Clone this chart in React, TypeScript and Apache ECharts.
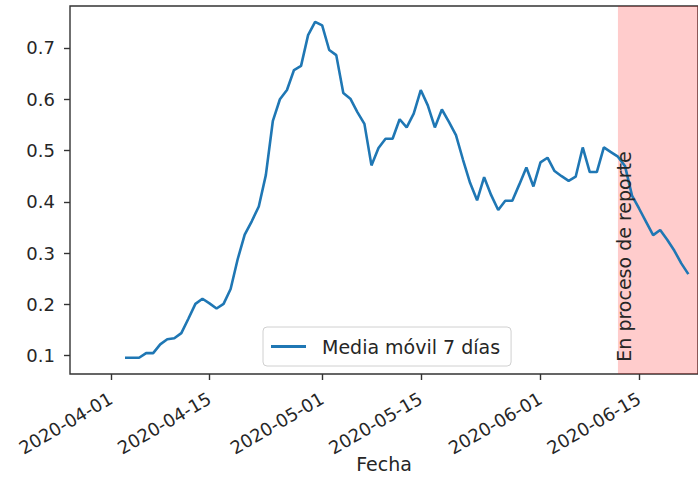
import React, { useEffect, useRef } from "react";
import * as echarts from "echarts";

// Daily dates of the 7-day moving average
const dates: string[] = [
  "2020-04-03", "2020-04-04", "2020-04-05", "2020-04-06", "2020-04-07", "2020-04-08", "2020-04-09",
  "2020-04-10", "2020-04-11", "2020-04-12", "2020-04-13", "2020-04-14", "2020-04-15", "2020-04-16",
  "2020-04-17", "2020-04-18", "2020-04-19", "2020-04-20", "2020-04-21", "2020-04-22", "2020-04-23",
  "2020-04-24", "2020-04-25", "2020-04-26", "2020-04-27", "2020-04-28", "2020-04-29", "2020-04-30",
  "2020-05-01", "2020-05-02", "2020-05-03", "2020-05-04", "2020-05-05", "2020-05-06", "2020-05-07",
  "2020-05-08", "2020-05-09", "2020-05-10", "2020-05-11", "2020-05-12", "2020-05-13", "2020-05-14",
  "2020-05-15", "2020-05-16", "2020-05-17", "2020-05-18", "2020-05-19", "2020-05-20", "2020-05-21",
  "2020-05-22", "2020-05-23", "2020-05-24", "2020-05-25", "2020-05-26", "2020-05-27", "2020-05-28",
  "2020-05-29", "2020-05-30", "2020-05-31",
  "2020-06-01", "2020-06-02", "2020-06-03", "2020-06-04", "2020-06-05", "2020-06-06", "2020-06-07",
  "2020-06-08", "2020-06-09", "2020-06-10", "2020-06-11", "2020-06-12", "2020-06-13", "2020-06-14",
  "2020-06-15", "2020-06-16", "2020-06-17", "2020-06-18", "2020-06-19", "2020-06-20", "2020-06-21",
  "2020-06-22",
];

const movingAverage: number[] = [
  // April 3 - 30
  0.096, 0.096, 0.096, 0.105, 0.105, 0.122, 0.132, 0.134, 0.144, 0.172, 0.201, 0.211, 0.202, 0.192,
  0.201, 0.230, 0.288, 0.336, 0.362, 0.391, 0.452, 0.558, 0.600, 0.618, 0.657, 0.665, 0.725, 0.751,
  // May
  0.744, 0.696, 0.686, 0.612, 0.601, 0.575, 0.552, 0.471, 0.505, 0.523, 0.523, 0.561, 0.545, 0.572,
  0.618, 0.588, 0.545, 0.580, 0.556, 0.530, 0.482, 0.437, 0.403, 0.448, 0.413, 0.384, 0.402, 0.402,
  0.434, 0.467, 0.430,
  // June 1 - 22
  0.477, 0.486, 0.460, 0.450, 0.441, 0.449, 0.506, 0.458, 0.458, 0.506, 0.497, 0.488, 0.470, 0.412,
  0.387, 0.361, 0.335, 0.345, 0.326, 0.305, 0.280, 0.259,
];

const xTickDates: string[] = ["2020-04-01", "2020-04-15", "2020-05-01", "2020-05-15", "2020-06-01", "2020-06-15"];
const yTicks: number[] = [0.1, 0.2, 0.3, 0.4, 0.5, 0.6, 0.7];
const reportStart = "2020-06-12";
const seriesName = "Media móvil 7 días";
const xAxisName = "Fecha";
const spanLabel = "En proceso de reporte";

const FONT = "DejaVu Sans";
const TEXT = "#262626";
const SPINE = "#333333";

const ORIGIN = Date.UTC(2020, 3, 1);
const DAY_MS = 86400000;
const toDay = (s: string): number => {
  const [y, m, d] = s.split("-").map(Number);
  return (Date.UTC(y, m - 1, d) - ORIGIN) / DAY_MS;
};

// axis extents (in days from 2020-04-01 / in values)
const X_MIN = -5.81;
const X_MAX = 83.37;
const Y_MIN = 0.0643;
const Y_MAX = 0.7818;

export default function App() {
  const ref = useRef<HTMLDivElement>(null);

  useEffect(() => {
    if (!ref.current) return;
    const chart = echarts.init(ref.current, null, { renderer: "svg" });

    const xTickValues = xTickDates.map(toDay);
    const labelMap: Record<string, string> = {};
    xTickDates.forEach((d) => {
      labelMap[String(toDay(d))] = d;
    });

    const seriesData = dates.map((d, i) => [toDay(d), movingAverage[i]]);

    chart.setOption({
      animation: false,
      backgroundColor: "#ffffff",
      grid: {
        left: 70,
        right: -1,
        top: 6,
        bottom: 115,
        show: true,
        borderColor: SPINE,
        borderWidth: 1.4,
        backgroundColor: "transparent",
      },
      legend: {
        left: 263,
        top: 327,
        padding: [10, 11, 10, 8],
        itemWidth: 35,
        itemHeight: 3,
        icon: "rect",
        borderColor: "#d0d0d0",
        borderWidth: 1,
        borderRadius: 4,
        backgroundColor: "rgba(255,255,255,0.8)",
        textStyle: { fontSize: 19, color: TEXT, fontFamily: FONT, padding: [0, 0, 0, 11] },
        data: [seriesName],
      },
      xAxis: {
        type: "value",
        min: X_MIN,
        max: X_MAX,
        name: xAxisName,
        nameLocation: "middle",
        nameGap: 80,
        nameMoveOverlap: false,
        nameTextStyle: { fontSize: 19, color: TEXT, fontFamily: FONT },
        axisLine: { show: false, onZero: false },
        splitLine: { show: false },
        axisTick: {
          show: true,
          customValues: xTickValues,
          length: 6,
          lineStyle: { color: SPINE, width: 1.4 },
        },
        axisLabel: {
          customValues: xTickValues,
          rotate: 30,
          margin: 23,
          fontSize: 18,
          color: TEXT,
          fontFamily: FONT,
          formatter: (v: number) => labelMap[String(v)] ?? "",
        },
      },
      yAxis: {
        type: "value",
        min: Y_MIN,
        max: Y_MAX,
        axisLine: { show: false, onZero: false },
        splitLine: { show: false },
        axisTick: {
          show: true,
          customValues: yTicks,
          length: 6,
          lineStyle: { color: SPINE, width: 1.4 },
        },
        axisLabel: {
          customValues: yTicks,
          margin: 15,
          fontSize: 18,
          color: TEXT,
          fontFamily: FONT,
          formatter: (v: number) => v.toFixed(1),
        },
      },
      series: [
        {
          name: seriesName,
          type: "line",
          data: seriesData,
          showSymbol: false,
          symbol: "none",
          color: "#1f77b4",
          lineStyle: { color: "#1f77b4", width: 2.6 },
          z: 3,
          markArea: {
            silent: true,
            itemStyle: { color: "rgba(255,0,0,0.2)" },
            data: [[{ xAxis: toDay(reportStart) }, { xAxis: X_MAX }]],
          },
        },
      ],
    });

    const p = chart.convertToPixel({ xAxisIndex: 0, yAxisIndex: 0 }, [toDay(reportStart), 0.1]) as number[];
    chart.setOption({
      graphic: [
        {
          type: "text",
          x: p[0] - 3,
          y: p[1] + 6,
          rotation: Math.PI / 2,
          z: 10,
          style: {
            text: spanLabel,
            fontSize: 19,
            fontFamily: FONT,
            fill: TEXT,
            align: "left",
            verticalAlign: "top",
          },
        },
      ],
    });

    return () => chart.dispose();
  }, []);

  return (
    <div
      ref={ref}
      style={{ position: "absolute", left: 0, top: 0, width: 698, height: 489 }}
    />
  );
}
